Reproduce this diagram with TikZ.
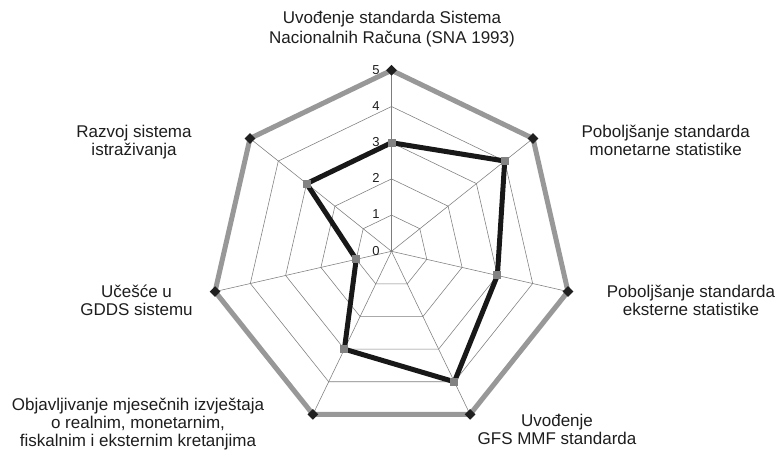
\documentclass[tikz,border=0pt]{standalone}
\usepackage{fontspec}
\setmainfont{Liberation Sans}
\usetikzlibrary{calc}
\definecolor{gridgray}{RGB}{125,125,125}
\definecolor{ringgray}{RGB}{152,152,152}
\definecolor{datablack}{RGB}{24,24,24}
\definecolor{markgray}{RGB}{130,130,130}
\definecolor{markblack}{RGB}{32,32,32}
\definecolor{textcol}{RGB}{30,30,30}
\begin{document}
\begin{tikzpicture}[x=1pt,y=1pt,
  grid/.style={draw=gridgray, line width=0.55pt},
  outerring/.style={draw=ringgray, line width=5pt, line join=miter},
  dataline/.style={draw=datablack, line width=5pt, line join=miter},
  outermark/.style={fill=markblack, shape=rectangle, minimum size=7.6pt, inner sep=0pt, rotate=45},
  datamark/.style={fill=markgray, shape=rectangle, minimum size=8pt, inner sep=0pt},
  ticklbl/.style={font=\fontsize{13}{15}\selectfont, text=textcol, inner sep=0pt},
  axislbl/.style={font=\fontsize{17}{18}\selectfont, text=textcol, align=center, inner sep=0pt, anchor=base}
]
\useasboundingbox[fill=white] (0,0) rectangle (778,453);

% centre of the chart and one unit of the radial scale
\coordinate (O) at (391.5,201.7);
\def\unitlen{36.2}

% vertices of every ring on every axis
\foreach \k in {0,...,6}{
  \foreach \r in {1,...,5}{
    \coordinate (v\k-\r) at ($(O)+({90-\k*360/7}:{\r*\unitlen})$);
  }
}

% inner rings and spokes
\foreach \r in {1,...,4}{
  \draw[grid] (v0-\r) -- (v1-\r) -- (v2-\r) -- (v3-\r) -- (v4-\r) -- (v5-\r) -- (v6-\r) -- cycle;
}
\foreach \k in {0,...,6}{
  \draw[grid] (O) -- (v\k-5);
}

% maximum level
\draw[outerring] (v0-5) -- (v1-5) -- (v2-5) -- (v3-5) -- (v4-5) -- (v5-5) -- (v6-5) -- cycle;

% assessed level
\draw[dataline] (v0-3) -- (v1-4) -- (v2-3) -- (v3-4) -- (v4-3) -- (v5-1) -- (v6-3) -- cycle;

% markers
\foreach \k in {0,...,6}{
  \node[outermark] (om\k) at (v\k-5) {};
}
\node[datamark] (dm0) at (v0-3) {};
\node[datamark] (dm1) at (v1-4) {};
\node[datamark] (dm2) at (v2-3) {};
\node[datamark] (dm3) at (v3-4) {};
\node[datamark] (dm4) at (v4-3) {};
\node[datamark] (dm5) at (v5-1) {};
\node[datamark] (dm6) at (v6-3) {};

% scale numbers
\foreach \r in {0,...,5}{
  \node[ticklbl] (tick\r) at ($(O)+(-15.5,{\r*\unitlen+0.6})$) {\r};
}

% axis captions (anchored at the baseline of their last line)
\node[axislbl, font=\fontsize{17}{19.5}\selectfont] (capA) at (392,409.5)
  {Uvođenje standarda Sistema\\Nacionalnih Računa (SNA 1993)};
\node[axislbl] (capB) at (665.7,297) {Poboljšanje standarda\\monetarne statistike};
\node[axislbl] (capC) at (691,138) {Poboljšanje standarda\\eksterne statistike};
\node[axislbl] (capD) at (557,9) {Uvođenje\\GFS MMF standarda};
\node[axislbl] (capE) at (138,6.3)
  {Objavljivanje mjesečnih izvještaja\\o realnim, monetarnim,\\fiskalnim i eksternim kretanjima};
\node[axislbl] (capF) at (136.5,138) {Učešće u\\GDDS sistemu};
\node[axislbl] (capG) at (134,297) {Razvoj sistema\\istraživanja};
\end{tikzpicture}
\end{document}
